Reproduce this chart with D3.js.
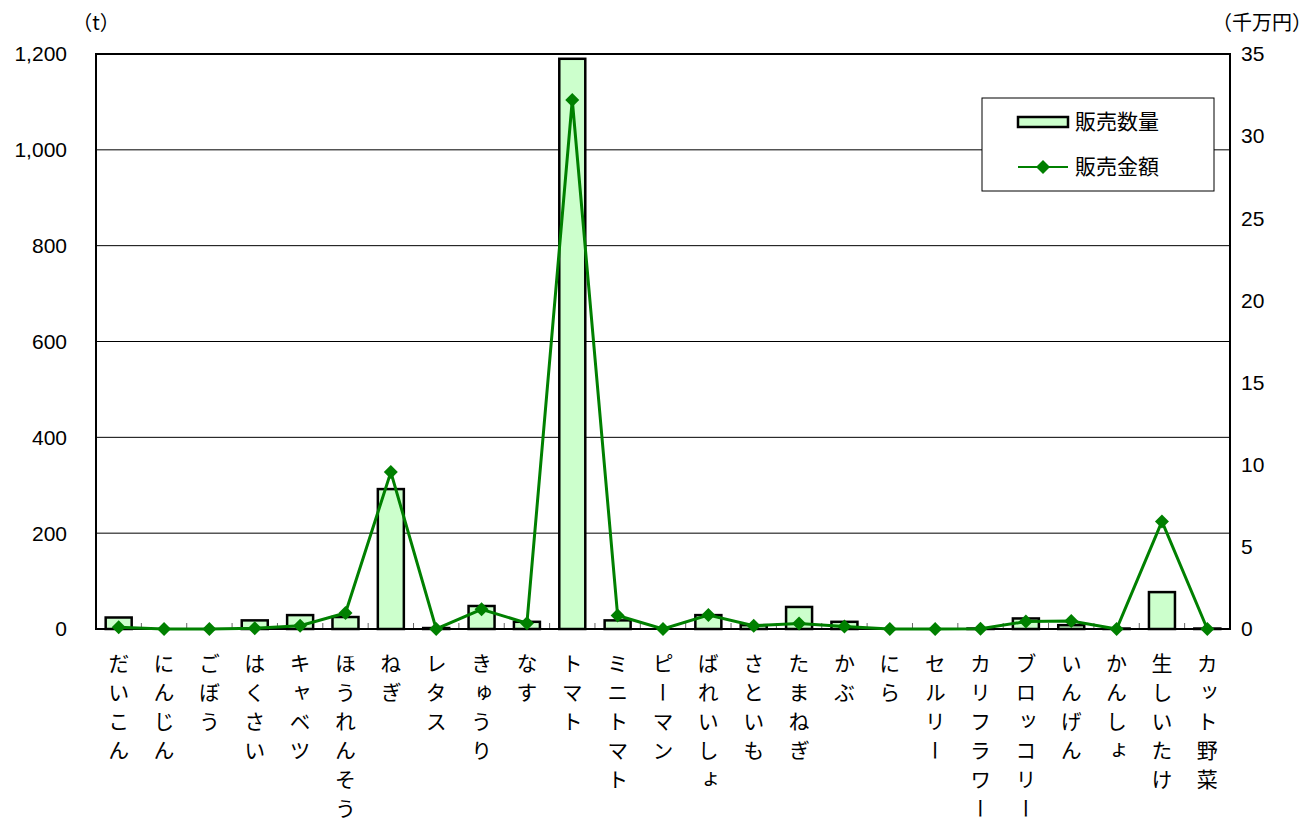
<!DOCTYPE html>
<html>
<head>
<meta charset="utf-8">
<script src="https://cdn.jsdelivr.net/npm/d3@7"></script>
<style>
  body { margin: 0; background: #fff; }
  svg text { font-family: "Noto Sans CJK JP", "Noto Sans", sans-serif; fill: #000; }
  svg text.num { font-family: "Liberation Sans", Arial, sans-serif; }
</style>
</head>
<body>
<svg id="chart"></svg>
<script>
// 品目
const hinmoku = ["だいこん","にんじん","ごぼう","はくさい","キャベツ","ほうれんそう","ねぎ","レタス","きゅうり","なす",
  "トマト","ミニトマト","ピーマン","ばれいしょ","さといも","たまねぎ","かぶ","にら","セルリー","カリフラワー",
  "ブロッコリー","いんげん","かんしょ","生しいたけ","カット野菜"];
// 販売数量 (t)
const suryo = [24, 0, 0, 18, 29, 25, 292, 2, 48, 15, 1190, 18, 0, 29, 8, 46, 15, 0, 0, 1, 22, 8, 1, 77, 1];
// 販売金額 (千万円)
const kingaku = [0.1, 0, 0, 0.05, 0.2, 0.97, 9.55, 0, 1.2, 0.35, 32.2, 0.82, 0, 0.85, 0.2, 0.33, 0.15, 0, 0, 0.02, 0.45, 0.48, 0, 6.55, 0];
const ticksL = [0, 200, 400, 600, 800, 1000, 1200];
const ticksR = [0, 5, 10, 15, 20, 25, 30, 35];

const W = 1314, H = 828;
const M = { left: 96, right: 84, top: 54, bottom: 199 };
const iw = W - M.left - M.right, ih = H - M.top - M.bottom;

const svg = d3.select("#chart").attr("width", W).attr("height", H);
const g = svg.append("g").attr("transform", `translate(${M.left},${M.top})`);

const x = d3.scaleBand().domain(hinmoku).range([0, iw]);
const yL = d3.scaleLinear().domain([0, 1200]).range([ih, 0]);
const yR = d3.scaleLinear().domain([0, 35]).range([ih, 0]);
const fmt = d3.format(",");

// グリッド
g.selectAll("line.grid").data(ticksL.slice(1)).join("line")
  .attr("x1", 0).attr("x2", iw)
  .attr("y1", d => yL(d)).attr("y2", d => yL(d))
  .attr("stroke", "#000").attr("stroke-width", 1);

// 目盛ラベル
g.selectAll("text.tl").data(ticksL).join("text").attr("class", "num")
  .attr("x", -29).attr("y", d => yL(d)).attr("dy", "0.35em")
  .attr("text-anchor", "end").attr("font-size", 21).text(d => fmt(d));
g.selectAll("text.tr").data(ticksR).join("text").attr("class", "num")
  .attr("x", iw + 11).attr("y", d => yR(d)).attr("dy", "0.35em")
  .attr("text-anchor", "start").attr("font-size", 21).text(d => d);

// カテゴリ境界の目盛
g.selectAll("line.ct").data(hinmoku.slice(1)).join("line")
  .attr("x1", d => x(d)).attr("x2", d => x(d))
  .attr("y1", ih).attr("y2", ih - 6)
  .attr("stroke", "#666").attr("stroke-width", 1);

// 棒
const bw = 26;
g.selectAll("rect.bar").data(suryo).join("rect")
  .attr("x", (d, i) => x(hinmoku[i]) + x.bandwidth() / 2 - bw / 2)
  .attr("y", d => yL(d))
  .attr("width", bw)
  .attr("height", d => ih - yL(d))
  .attr("fill", "#ccffcc").attr("stroke", "#000").attr("stroke-width", 2.5);

// 枠
g.append("rect").attr("width", iw).attr("height", ih)
  .attr("fill", "none").attr("stroke", "#000").attr("stroke-width", 2);

// 折れ線
const line = d3.line().x((d, i) => x(hinmoku[i]) + x.bandwidth() / 2).y(d => yR(d));
g.append("path").datum(kingaku).attr("d", line)
  .attr("fill", "none").attr("stroke", "#008000").attr("stroke-width", 3);
const diamond = "M0,-7L7,0L0,7L-7,0Z";
g.selectAll("path.mk").data(kingaku).join("path")
  .attr("d", diamond)
  .attr("transform", (d, i) => `translate(${x(hinmoku[i]) + x.bandwidth() / 2},${yR(d)})`)
  .attr("fill", "#008000");

// カテゴリラベル(縦書き)
g.selectAll("text.cat").data(hinmoku).join("text")
  .attr("x", d => x(d) + x.bandwidth() / 2)
  .attr("y", ih + 24)
  .attr("font-size", 21)
  .style("writing-mode", "vertical-rl")
  .style("letter-spacing", "8px")
  .attr("text-anchor", "start")
  .text(d => d);

// 単位
svg.append("text").attr("x", 96).attr("y", 30).attr("text-anchor", "middle").attr("font-size", 20).text("（t）");
svg.append("text").attr("x", 1262).attr("y", 30).attr("text-anchor", "middle").attr("font-size", 20).text("（千万円）");

// 凡例
const lg = svg.append("g").attr("transform", "translate(982,98)");
lg.append("rect").attr("width", 232).attr("height", 93).attr("fill", "#fff").attr("stroke", "#000").attr("stroke-width", 1);
lg.append("rect").attr("x", 36).attr("y", 19).attr("width", 50).attr("height", 10)
  .attr("fill", "#ccffcc").attr("stroke", "#000").attr("stroke-width", 2.5);
lg.append("text").attr("x", 93).attr("y", 24).attr("dy", "0.35em").attr("font-size", 21).text("販売数量");
lg.append("line").attr("x1", 36).attr("x2", 86).attr("y1", 69).attr("y2", 69).attr("stroke", "#008000").attr("stroke-width", 2);
lg.append("path").attr("d", diamond).attr("transform", "translate(61,69)").attr("fill", "#008000");
lg.append("text").attr("x", 93).attr("y", 69).attr("dy", "0.35em").attr("font-size", 21).text("販売金額");
</script>
</body>
</html>
